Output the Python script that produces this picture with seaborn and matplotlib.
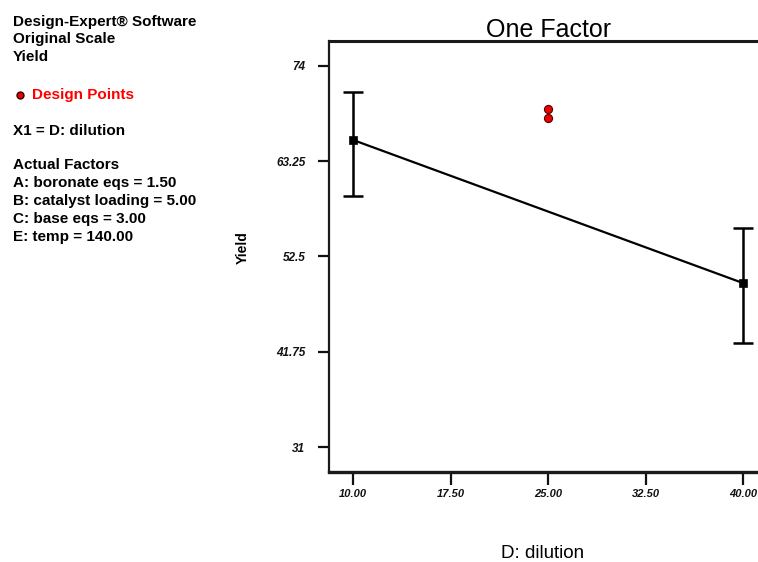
import matplotlib
matplotlib.use("Agg")
import matplotlib.pyplot as plt
from matplotlib.lines import Line2D
import seaborn as sns
import pandas as pd

# One-factor effect of dilution on yield (model prediction with 95% CI bars)
dilution = [10.0, 40.0]
predicted_yield = [65.65, 49.5]
ci_low = [59.33, 42.74]
ci_high = [71.07, 55.72]

# Observed design points
design_dilution = [25.0, 25.0]
design_yield = [69.15, 68.13]

x_ticks = [10.0, 17.5, 25.0, 32.5, 40.0]
x_tick_labels = ["10.00", "17.50", "25.00", "32.50", "40.00"]
y_ticks = [31, 41.75, 52.5, 63.25, 74]
y_tick_labels = ["31", "41.75", "52.5", "63.25", "74"]

info_lines = [
    "Design-Expert\u00ae Software",
    "Original Scale",
    "Yield",
]
factor_lines = [
    "Actual Factors",
    "A: boronate eqs = 1.50",
    "B: catalyst loading = 5.00",
    "C: base eqs = 3.00",
    "E: temp = 140.00",
]

sns.set_theme(style="white")
plt.rcParams["font.family"] = ["Liberation Sans", "DejaVu Sans"]

W, H = 758, 562
fig = plt.figure(figsize=(W / 100, H / 100), dpi=100)
ax = fig.add_axes([329 / W, 1 - 472 / H, 1 - 329 / W, (472 - 41) / H])

pred = pd.DataFrame({"D: dilution": dilution, "Yield": predicted_yield})
pts = pd.DataFrame({"D: dilution": design_dilution, "Yield": design_yield})

sns.lineplot(data=pred, x="D: dilution", y="Yield", color="black",
             linewidth=1.6, ax=ax, zorder=3)
ax.errorbar(dilution, predicted_yield,
            yerr=[[p - lo for p, lo in zip(predicted_yield, ci_low)],
                  [hi - p for p, hi in zip(predicted_yield, ci_high)]],
            fmt="none", ecolor="black", elinewidth=1.8, capsize=7,
            capthick=1.8, zorder=2)
sns.scatterplot(data=pred, x="D: dilution", y="Yield", marker="s", s=36,
                color="black", edgecolor="black", ax=ax, zorder=4)
sns.scatterplot(data=pts, x="D: dilution", y="Yield", marker="o", s=34,
                color="#ee0000", edgecolor="#550000", linewidth=0.8,
                ax=ax, zorder=5)

ax.set_xlim(8.15, 41.15)
ax.set_ylim(28.18, 76.82)
ax.set_xticks(x_ticks)
ax.set_xticklabels(x_tick_labels, fontsize=8, fontweight="bold",
                   fontstyle="italic")
ax.set_yticks(y_ticks)
ax.set_yticklabels(y_tick_labels, fontsize=8.5, fontweight="bold",
                   fontstyle="italic")
ax.tick_params(axis="x", direction="out", length=9, width=1.6, pad=3,
               bottom=True, colors="#111111")
ax.tick_params(axis="y", direction="out", length=8, width=1.6, pad=9,
               left=True, colors="#111111")

for side in ("left", "bottom", "top"):
    ax.spines[side].set_color("#1a1a1a")
ax.spines["left"].set_linewidth(1.6)
ax.spines["bottom"].set_linewidth(2.4)
ax.spines["top"].set_linewidth(2.2)
ax.spines["right"].set_visible(False)

ax.set_xlabel("")
ax.set_ylabel("")
fig.text(543 / W, 1 - 553 / H, "D: dilution", fontsize=13.5,
         ha="center", va="center", color="black")
fig.text(243 / W, 1 - 248 / H, "Yield", fontsize=10, fontweight="bold",
         rotation=90, ha="center", va="center", color="black")
fig.text(549 / W, 1 - 30 / H, "One Factor", fontsize=18,
         ha="center", va="center", color="black")

text_kw = dict(fontsize=11, fontweight="bold", ha="left", va="center",
               color="black")
for i, line in enumerate(info_lines):
    fig.text(13 / W, 1 - (22 + 17.5 * i) / H, line, **text_kw)

fig.add_artist(Line2D([20 / W], [1 - 95 / H], transform=fig.transFigure,
                      marker="o", markersize=5, color="#ee0000",
                      markeredgecolor="#330000", linestyle="none"))
fig.text(32 / W, 1 - 95 / H, "Design Points",
         **{**text_kw, "color": "#ff0000"})
fig.text(13 / W, 1 - 131 / H, "X1 = D: dilution", **text_kw)

for i, line in enumerate(factor_lines):
    fig.text(13 / W, 1 - (165 + 18 * i) / H, line, **text_kw)

fig.savefig("out.png", dpi=100)
